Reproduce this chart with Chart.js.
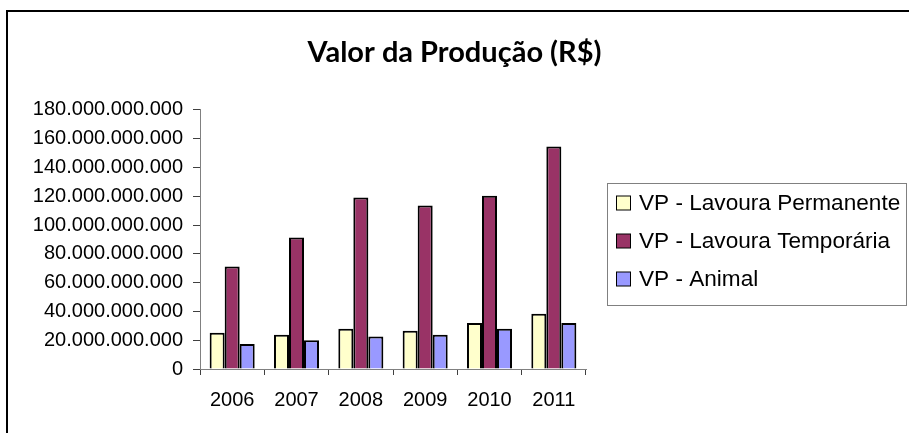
<!DOCTYPE html>
<html lang="pt-BR">
<head>
<meta charset="utf-8">
<title>Valor da Produção (R$)</title>
<script src="https://cdn.jsdelivr.net/npm/chart.js@4.4.1/dist/chart.umd.min.js"></script>
<style>
    html, body { margin: 0; padding: 0; background: #fff; overflow: hidden; }
    #chart { display: block; }
</style>
</head>
<body>
<canvas id="chart" width="909" height="433"></canvas>
<script>
// --- Data ---
const years = ['2006', '2007', '2008', '2009', '2010', '2011'];
const lavouraPermanente = [25200000000, 23800000000, 28000000000, 26600000000, 31900000000, 38400000000];
const lavouraTemporaria = [71200000000, 91300000000, 119100000000, 113600000000, 120300000000, 154500000000];
const animal = [17400000000, 19900000000, 22600000000, 23800000000, 28000000000, 31900000000];
const seriesNames = ['VP - Lavoura Permanente', 'VP - Lavoura Temporária', 'VP - Animal'];
const seriesColors = ['#FFFFCC', '#993366', '#9999FF'];
const yMax = 180000000000;
const yStep = 20000000000;

const FONT = '"Liberation Sans", Arial, sans-serif';

// thousands separator with dots, like the original
const formatNumber = (v) => String(Math.round(v)).replace(/\B(?=(\d{3})+(?!\d))/g, '.');

// --- Frame around the chart (only left and top edges are visible) ---
const framePlugin = {
    id: 'frame',
    beforeDraw(chart) {
        const ctx = chart.ctx;
        ctx.save();
        ctx.fillStyle = '#fff';
        ctx.fillRect(0, 0, chart.width, chart.height);
        ctx.strokeStyle = '#000';
        ctx.lineWidth = 2;
        ctx.beginPath();
        ctx.moveTo(7, chart.height);
        ctx.lineTo(7, 11);
        ctx.lineTo(chart.width, 11);
        ctx.stroke();
        ctx.restore();
    }
};

// --- Boxed legend on the right ---
const boxLegendPlugin = {
    id: 'boxLegend',
    afterDraw(chart) {
        const ctx = chart.ctx;
        const box = { x: 607.5, y: 183.5, w: 299, h: 122 };
        ctx.save();
        ctx.strokeStyle = '#808080';
        ctx.lineWidth = 1;
        ctx.strokeRect(box.x, box.y, box.w, box.h);

        ctx.font = '22.6px ' + FONT;
        ctx.textBaseline = 'middle';
        ctx.textAlign = 'left';
        chart.data.datasets.forEach((ds, i) => {
            const cy = 203 + i * 38;
            ctx.fillStyle = ds.backgroundColor;
            ctx.fillRect(616.5, cy - 7, 14, 14);
            ctx.strokeStyle = '#000';
            ctx.strokeRect(616.5, cy - 7, 14, 14);
            ctx.fillStyle = '#000';
            ctx.fillText(ds.label, 639, cy + 1);
        });
        ctx.restore();
    }
};

const ctx = document.getElementById('chart').getContext('2d');
const chart = new Chart(ctx, {
    type: 'bar',
    data: {
        labels: years,
        datasets: [lavouraPermanente, lavouraTemporaria, animal].map((values, i) => ({
            label: seriesNames[i],
            data: values,
            backgroundColor: seriesColors[i],
            borderColor: '#000',
            borderWidth: 2,
            borderSkipped: 'bottom',
            categoryPercentage: 0.7,
            barPercentage: 1.0
        }))
    },
    options: {
        responsive: false,
        animation: false,
        layout: {
            padding: 0
        },
        plugins: {
            legend: { display: false },
            tooltip: { enabled: false },
            title: {
                display: true,
                text: 'Valor da Produção (R$)',
                color: '#000',
                font: { family: 'Lato, "Open Sans", sans-serif', size: 29, weight: 'bold', lineHeight: 1.2 },
                padding: { top: 35, bottom: 40 }
            }
        },
        scales: {
            x: {
                offset: true,
                grid: {
                    offset: true,
                    drawOnChartArea: false,
                    drawTicks: true,
                    tickLength: 6,
                    color: '#404040'
                },
                border: { color: '#808080', width: 1 },
                ticks: {
                    color: '#000',
                    padding: 13,
                    maxRotation: 0,
                    font: { family: FONT, size: 20 }
                },
                afterFit(scale) { scale.height = 64; }
            },
            y: {
                min: 0,
                max: yMax,
                grid: {
                    drawOnChartArea: false,
                    drawTicks: true,
                    tickLength: 7,
                    color: '#404040'
                },
                border: { color: '#808080', width: 1 },
                ticks: {
                    stepSize: yStep,
                    color: '#000',
                    padding: 10,
                    font: { family: FONT, size: 20 },
                    callback: (v) => formatNumber(v)
                },
                afterFit(scale) { scale.width = 200; }
            },
            // empty right-hand axis that only reserves room for the legend box
            legendSpace: {
                position: 'right',
                min: 0,
                max: 1,
                grid: { display: false },
                border: { display: false },
                ticks: { display: false },
                afterFit(scale) { scale.width = 323; }
            }
        }
    },
    plugins: [framePlugin, boxLegendPlugin]
});
</script>
</body>
</html>
